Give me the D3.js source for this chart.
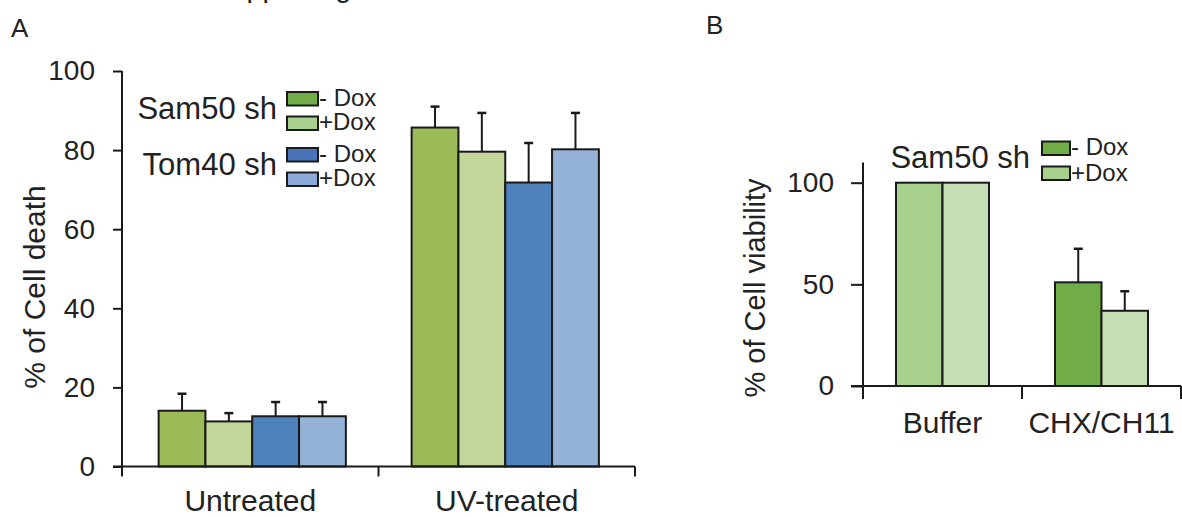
<!DOCTYPE html>
<html>
<head>
<meta charset="utf-8">
<script src="https://cdn.jsdelivr.net/npm/d3@7"></script>
<style>
  body { margin: 0; background: #fff; }
  svg { display: block; font-family: "Liberation Sans", Arial, sans-serif; }
  .axis path, .axis line { stroke: #1a1a1a; stroke-width: 2; }
  .axis text { fill: #222; }
</style>
</head>
<body>
<svg id="chart" width="1182" height="517"></svg>
<script>
// panel A: cell death
const groupsA = ["Untreated", "UV-treated"];
const seriesA = ["Sam50 sh - Dox", "Sam50 sh +Dox", "Tom40 sh - Dox", "Tom40 sh +Dox"];
const meanA = [[14.1, 11.4, 12.7, 12.7], [85.7, 79.6, 71.8, 80.2]];
const errA = [[4.3, 2.1, 3.6, 3.6], [5.3, 9.8, 10.0, 9.2]];
const ticksA = [0, 20, 40, 60, 80, 100];
const legendA = [["Sam50 sh", ["- Dox", "+Dox"]], ["Tom40 sh", ["- Dox", "+Dox"]]];

// panel B: cell viability
const groupsB = ["Buffer", "CHX/CH11"];
const seriesB = ["- Dox", "+Dox"];
const meanB = [[100, 100], [51, 37]];
const errB = [[0, 0], [16.5, 9.6]];
const ticksB = [0, 50, 100];

// colours kept apart from the values
const barColorsA = ["#9bbb59", "#c4d79b", "#4f81bd", "#95b3d7"];
const legColorsA = ["#70ad47", "#a9d18e", "#4a72b8", "#8eaadb"];
const barColorsB = [["#a9d18e", "#c5e0b4"], ["#70ad47", "#c5e0b4"]];
const legColorsB = ["#70ad47", "#a9d18e"];

const svg = d3.select("#chart");

// clipped title line at the very top (only descenders show, as in the source)
svg.append("text")
    .attr("x", 211).attr("y", -3)
    .style("font-size", "29px").style("fill", "#222")
    .text("Supporting");

svg.append("text").attr("x", 11).attr("y", 37)
    .style("font-size", "26px").style("fill", "#222").text("A");
svg.append("text").attr("x", 706).attr("y", 34)
    .style("font-size", "26px").style("fill", "#222").text("B");

// draws one grouped bar panel
const drawPanel = (opt) => {
    const g = svg.append("g");

    const y = d3.scaleLinear().domain(opt.yDomain).range([opt.y0, opt.y1]);
    const x = d3.scaleBand().domain(opt.groups).range([opt.x0, opt.x1]);
    const inner = x.bandwidth() * opt.fill;
    const xs = d3.scaleBand().domain(d3.range(opt.nSeries)).range([0, inner]);

    // bars
    opt.groups.forEach((grp, gi) => {
        const row = opt.means[gi].map((v, si) => ({v: v, e: opt.errs[gi][si], si: si}));
        const off = (x.bandwidth() - inner) / 2 + opt.shift[gi];
        const gg = g.append("g").attr("transform", `translate(${x(grp) + off},0)`);

        gg.selectAll("rect")
            .data(row)
            .enter()
            .append("rect")
            .attr("x", d => xs(d.si))
            .attr("y", d => y(d.v))
            .attr("width", xs.bandwidth())
            .attr("height", d => y(0) - y(d.v))
            .style("fill", d => opt.color(gi, d.si))
            .style("stroke", "#1a1a1a")
            .style("stroke-width", 2);

        const eb = gg.selectAll(".err")
            .data(row.filter(d => d.e > 0))
            .enter()
            .append("g");
        eb.append("line")
            .attr("x1", d => xs(d.si) + xs.bandwidth() / 2)
            .attr("x2", d => xs(d.si) + xs.bandwidth() / 2)
            .attr("y1", d => y(d.v))
            .attr("y2", d => y(d.v + d.e))
            .style("stroke", "#1a1a1a").style("stroke-width", 2);
        eb.append("line")
            .attr("x1", d => xs(d.si) + xs.bandwidth() / 2 - 4.5)
            .attr("x2", d => xs(d.si) + xs.bandwidth() / 2 + 4.5)
            .attr("y1", d => y(d.v + d.e))
            .attr("y2", d => y(d.v + d.e))
            .style("stroke", "#1a1a1a").style("stroke-width", 2.5);
    });

    // y axis
    const ya = g.append("g")
        .attr("class", "axis")
        .attr("transform", `translate(${opt.x0},0)`)
        .call(d3.axisLeft(y).tickValues(opt.ticks).tickSize(opt.tick).tickSizeOuter(0).tickPadding(opt.tickPad));
    ya.selectAll("text").style("font-size", opt.tickFont + "px");
    ya.select(".domain").attr("d", `M0,${y(0)}V${opt.yTop}`);

    // x axis with category labels at band centres
    const xa = g.append("g")
        .attr("class", "axis")
        .attr("transform", `translate(0,${y(0)})`)
        .call(d3.axisBottom(x).tickSize(0).tickSizeOuter(0).tickPadding(opt.labPad));
    xa.selectAll("text").style("font-size", opt.labFont + "px");
    xa.select(".domain").attr("d", `M${opt.x0 - opt.tick},0H${opt.x1}`);

    // boundary ticks between categories
    const edges = opt.groups.map(d => x(d)).concat([x(opt.groups[opt.groups.length - 1]) + x.bandwidth()]);
    xa.selectAll(".edge")
        .data(edges)
        .enter()
        .append("line")
        .attr("x1", d => d).attr("x2", d => d)
        .attr("y1", 0).attr("y2", opt.tick + 1)
        .style("stroke", "#1a1a1a").style("stroke-width", 2);

    // y label
    g.append("text")
        .attr("transform", `translate(${opt.labX},${opt.labY}) rotate(-90)`)
        .attr("text-anchor", "middle")
        .style("font-size", opt.titleFont + "px")
        .style("fill", "#222")
        .text(opt.yTitle);

    return g;
}

drawPanel({
    groups: groupsA, means: meanA, errs: errA, nSeries: seriesA.length,
    yDomain: [0, 100], ticks: ticksA, y0: 466.5, y1: 71, yTop: 71,
    x0: 122, x1: 635, fill: 0.73, shift: [2, -1.5],
    color: (gi, si) => barColorsA[si],
    tick: 9, tickPad: 18, tickFont: 28,
    labPad: 23, labFont: 30,
    labX: 45, labY: 287, titleFont: 30, yTitle: "% of Cell death"
});

drawPanel({
    groups: groupsB, means: meanB, errs: errB, nSeries: seriesB.length,
    yDomain: [0, 100], ticks: ticksB, y0: 386, y1: 182.7, yTop: 162.5,
    x0: 863, x1: 1181, fill: 0.585, shift: [0, 0],
    color: (gi, si) => barColorsB[gi][si],
    tick: 12, tickPad: 17, tickFont: 28,
    labPad: 26, labFont: 30,
    labX: 765, labY: 288, titleFont: 29, yTitle: "% of Cell viability"
});

// legend for panel A
legendA.forEach((entry, i) => {
    const top = 92 + i * 56;
    svg.append("text")
        .attr("x", 277).attr("y", i == 0 ? 119 : 175)
        .attr("text-anchor", "end")
        .style("font-size", "31px").style("fill", "#222")
        .text(entry[0]);
    entry[1].forEach((lab, j) => {
        svg.append("rect")
            .attr("x", 287).attr("y", top + j * 24.5)
            .attr("width", 31).attr("height", 13.5)
            .style("fill", legColorsA[i * 2 + j])
            .style("stroke", "#1a1a1a").style("stroke-width", 2);
        svg.append("text")
            .attr("x", 319).attr("y", top + j * 24.5 + 13.5)
            .style("font-size", "24px").style("fill", "#222")
            .text(lab);
    });
});

// legend for panel B
svg.append("text")
    .attr("x", 1030).attr("y", 168)
    .attr("text-anchor", "end")
    .style("font-size", "31px").style("fill", "#222")
    .text("Sam50 sh");
seriesB.forEach((lab, j) => {
    svg.append("rect")
        .attr("x", 1042).attr("y", 141.5 + j * 25)
        .attr("width", 28).attr("height", 13.5)
        .style("fill", legColorsB[j])
        .style("stroke", "#1a1a1a").style("stroke-width", 2);
    svg.append("text")
        .attr("x", 1071).attr("y", 155 + j * 25.5)
        .style("font-size", "24px").style("fill", "#222")
        .text(lab);
});
</script>
</body>
</html>
